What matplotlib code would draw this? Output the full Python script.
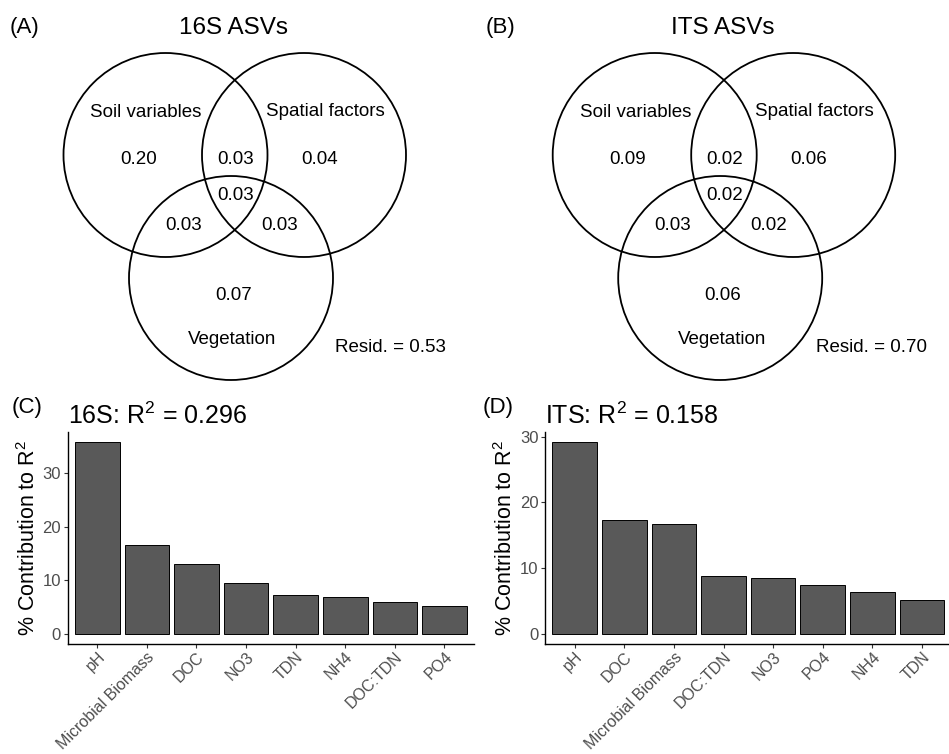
import matplotlib
matplotlib.use('Agg')
import matplotlib.pyplot as plt
from matplotlib.patches import Circle

plt.rcParams['font.family'] = ['Liberation Sans', 'DejaVu Sans']
plt.rcParams['mathtext.fontset'] = 'custom'
plt.rcParams['mathtext.rm'] = 'Liberation Sans'
plt.rcParams['mathtext.it'] = 'Liberation Sans:italic'

# Venn partitions: soil, soil&spatial, spatial, all three, soil&veg, spatial&veg, veg
venn_names = ['Soil variables', 'Spatial factors', 'Vegetation']
venn_16s = [0.20, 0.03, 0.04, 0.03, 0.03, 0.03, 0.07]
resid_16s = 0.53
venn_its = [0.09, 0.02, 0.06, 0.02, 0.03, 0.02, 0.06]
resid_its = 0.70

# relative importance bars
cats_16s = ['pH', 'Microbial Biomass', 'DOC', 'NO3', 'TDN', 'NH4', 'DOC:TDN', 'PO4']
vals_16s = [35.75, 16.5, 13.1, 9.4, 7.25, 6.95, 5.9, 5.2]
r2_16s = 0.296
cats_its = ['pH', 'DOC', 'Microbial Biomass', 'DOC:TDN', 'NO3', 'PO4', 'NH4', 'TDN']
vals_its = [29.2, 17.4, 16.7, 8.8, 8.55, 7.4, 6.35, 5.2]
r2_its = 0.158

W, H = 949, 754
fig = plt.figure(figsize=(W / 100, H / 100), dpi=100)

# overlay in pixel coordinates for the venn diagrams and panel tags
ov = fig.add_axes([0, 0, 1, 1])
ov.set_xlim(0, W)
ov.set_ylim(H, 0)
ov.axis('off')

# circle centres relative to the left circle, radius in px
circ = [(0, 0), (138.5, 0), (65.5, 123)]
rad = 102
# (dx, baseline y) for the seven numbers
num_pos = [(-27, 164), (70, 164), (154, 164), (70, 200), (18, 230), (114, 230), (68, 300)]
name_pos = [(-19.5, 117), (159.5, 116), (67, 344)]


def draw_venn(x0, vals, resid, resid_x, title, tag, tag_x):
    for cx, cy in circ:
        ov.add_patch(Circle((x0 + cx, 155 + cy), rad, fill=False, ec='black', lw=1.3))
    for (dx, y), v in zip(num_pos, vals):
        ov.text(x0 + dx, y, f'{v:.2f}', ha='center', va='baseline', fontsize=13.5)
    for (dx, y), nm in zip(name_pos, venn_names):
        ov.text(x0 + dx, y, nm, ha='center', va='baseline', fontsize=13.5)
    ov.text(resid_x, 352, f'Resid. = {resid:.2f}', ha='left', va='baseline', fontsize=13.5)
    ov.text(x0 + 68, 34, title, ha='center', va='baseline', fontsize=17.5)
    ov.text(tag_x, 33, tag, ha='left', va='baseline', fontsize=16)


draw_venn(165.5, venn_16s, resid_16s, 335, '16S ASVs', '(A)', 10)
draw_venn(654.7, venn_its, resid_its, 816, 'ITS ASVs', '(B)', 486)


def draw_bars(left_px, cats, vals, title, tag, tag_x):
    bottom_px, top_px, right_px = 643.6, 432.3, left_px + 406.7
    ax = fig.add_axes([left_px / W, 1 - bottom_px / H, (right_px - left_px) / W,
                       (bottom_px - top_px) / H])
    x = range(len(cats))
    ax.bar(x, vals, width=0.9, color='#595959', edgecolor='black', linewidth=0.7)
    top = max(vals)
    ax.set_xlim(-0.6, len(cats) - 0.4)
    ax.set_ylim(-0.05 * top, 1.05 * top)
    ax.set_yticks([0, 10, 20, 30])
    ax.set_xticks(list(x))
    ax.set_xticklabels(cats, rotation=45, ha='right', rotation_mode='anchor')
    for s in ['top', 'right']:
        ax.spines[s].set_visible(False)
    for s in ['left', 'bottom']:
        ax.spines[s].set_linewidth(1.0)
        ax.spines[s].set_color('black')
    ax.tick_params(length=2.6, width=0.8, color='#333333', labelcolor='#4D4D4D',
                   labelsize=12, pad=2)
    ax.tick_params(axis='x', labelsize=11.5, pad=1.5)
    ax.set_ylabel('% Contribution to R$^{2}$', fontsize=15.5)
    ax.yaxis.set_label_coords(-0.068, 0.5)
    ax.set_title(title, loc='left', fontsize=18, pad=6)
    fig.text(tag_x / W, 1 - 413 / H, tag, ha='left', va='baseline', fontsize=16)
    return ax


draw_bars(67.5, cats_16s, vals_16s, f'16S: R$^{{2}}$ = {r2_16s:.3f}', '(C)', 12)
draw_bars(545, cats_its, vals_its, f'ITS: R$^{{2}}$ = {r2_its:.3f}', '(D)', 483)

fig.savefig('out.png', dpi=100)
